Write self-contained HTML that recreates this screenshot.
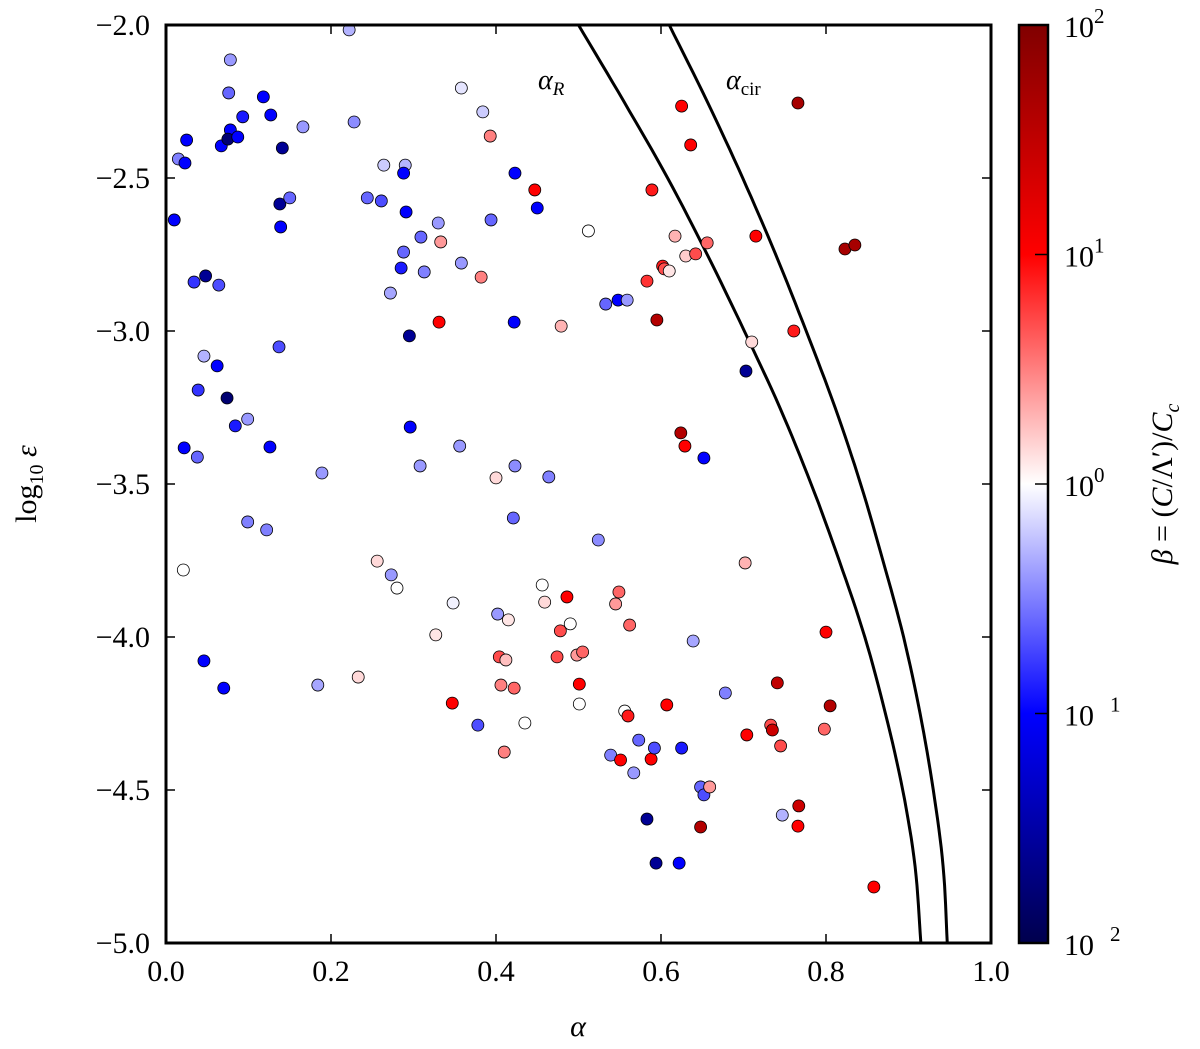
<!DOCTYPE html>
<html><head><meta charset="utf-8"><style>
html,body{margin:0;padding:0;background:#fff;}
svg text{font-family:"Liberation Serif",serif;fill:#000;}
</style></head><body>
<svg id="chart" width="1200" height="1044" xmlns="http://www.w3.org/2000/svg">
<defs>
<linearGradient id="cmap" x1="0" y1="1" x2="0" y2="0">
<stop offset="0" stop-color="#00004d"/>
<stop offset="0.25" stop-color="#0000ff"/>
<stop offset="0.5" stop-color="#ffffff"/>
<stop offset="0.75" stop-color="#ff0000"/>
<stop offset="1" stop-color="#800000"/>
</linearGradient>
</defs>
<g id="marks"></g>
<g id="axes"></g>
<text x="538" y="89" font-size="28" font-style="italic">α<tspan font-size="19" dy="6">R</tspan></text>
<text x="726" y="89" font-size="28" font-style="italic">α<tspan font-size="19" dy="6" font-style="normal">cir</tspan></text>
<text x="578" y="1036" font-size="30" font-style="italic" text-anchor="middle">α</text>
<text transform="translate(36,484) rotate(-90)" font-size="30" text-anchor="middle">log<tspan font-size="20" dy="7">10</tspan><tspan dy="-7" font-style="italic"> ε</tspan></text>
<text transform="translate(1172,484) rotate(-90)" font-size="30" text-anchor="middle"><tspan font-style="italic">β</tspan> = (<tspan font-style="italic">C</tspan>/Λ′)/<tspan font-style="italic">C</tspan><tspan font-size="20" dy="7" font-style="italic">c</tspan></text>
</svg>
<script>
const xTicks=[0,0.2,0.4,0.6,0.8,1.0];
const xTickLabels=["0.0","0.2","0.4","0.6","0.8","1.0"];
const yTicks=[-2,-2.5,-3,-3.5,-4,-4.5,-5];
const yTickLabels=["\u22122.0","\u22122.5","\u22123.0","\u22123.5","\u22124.0","\u22124.5","\u22125.0"];
const cbTicks=[2,1,0,-1,-2];
const cbExp=["2","1","0","1","2"];
const curveEps=[-2,-2.25,-2.5,-2.75,-3,-3.25,-3.5,-3.75,-4,-4.25,-4.5,-4.75,-5];
const alphaR=[0.500,0.555,0.608,0.656,0.701,0.744,0.782,0.816,0.847,0.872,0.893,0.908,0.915];
const alphaCir=[0.610,0.656,0.699,0.739,0.776,0.811,0.842,0.869,0.894,0.914,0.930,0.942,0.947];
const ptAlpha=[.010,.015,.023,.025,.034,.048,.064,.067,.076,.078,.078,.075,.093,.087,.118,.127,.141,.138,.139,.150,.166,.137,.046,.039,.062,.074,.084,.099,.022,.038,.126,.099,.122,.189,.021,.046,.070,.184,.233,.222,.228,.244,.261,.264,.290,.288,.291,.288,.285,.272,.313,.309,.330,.333,.331,.295,.296,.308,.358,.384,.393,.423,.394,.358,.382,.422,.447,.450,.512,.479,.533,.548,.559,.356,.400,.423,.421,.464,.524,.256,.273,.280,.327,.348,.402,.415,.456,.459,.486,.478,.490,.474,.498,.505,.501,.545,.549,.562,.404,.412,.406,.422,.347,.378,.435,.410,.501,.556,.560,.539,.551,.573,.567,.607,.588,.592,.583,.594,.622,.648,.652,.625,.636,.589,.617,.630,.642,.656,.602,.583,.604,.610,.595,.624,.629,.652,.715,.710,.703,.761,.766,.702,.625,.678,.639,.704,.733,.735,.745,.747,.659,.648,.767,.766,.741,.800,.798,.805,.823,.835,.858];
const ptLogEps=[-2.637,-2.438,-2.451,-2.376,-2.840,-2.820,-2.850,-2.395,-2.222,-2.114,-2.343,-2.373,-2.30,-2.366,-2.235,-2.294,-2.402,-2.585,-2.660,-2.565,-2.333,-3.052,-3.082,-3.193,-3.114,-3.219,-3.310,-3.288,-3.382,-3.412,-3.379,-3.624,-3.650,-3.464,-3.781,-4.078,-4.167,-4.157,-4.131,-2.016,-2.317,-2.565,-2.575,-2.458,-2.458,-2.484,-2.611,-2.742,-2.794,-2.876,-2.807,-2.693,-2.647,-2.709,-2.971,-3.016,-3.314,-3.441,-2.206,-2.284,-2.363,-2.484,-2.637,-2.778,-2.824,-2.971,-2.539,-2.598,-2.673,-2.984,-2.912,-2.899,-2.899,-3.376,-3.480,-3.441,-3.611,-3.477,-3.683,-3.752,-3.797,-3.840,-3.993,-3.889,-3.925,-3.944,-3.830,-3.886,-3.869,-3.980,-3.957,-4.065,-4.059,-4.049,-4.154,-3.892,-3.853,-3.961,-4.065,-4.075,-4.157,-4.167,-4.216,-4.288,-4.281,-4.376,-4.219,-4.242,-4.258,-4.386,-4.402,-4.337,-4.444,-4.222,-4.399,-4.363,-4.595,-4.739,-4.739,-4.490,-4.516,-2.265,-2.392,-2.539,-2.690,-2.755,-2.748,-2.712,-2.788,-2.837,-2.797,-2.804,-2.964,-3.333,-3.376,-3.415,-2.690,-3.036,-3.131,-3.000,-2.255,-3.758,-4.363,-4.183,-4.013,-4.320,-4.288,-4.304,-4.356,-4.582,-4.490,-4.621,-4.552,-4.618,-4.150,-3.984,-4.301,-4.225,-2.732,-2.719,-4.817];
const ptLogBeta=[-1.0,-0.5,-1.0,-1.0,-0.8,-1.6,-0.7,-1.0,-0.6,-0.4,-1.0,-1.8,-0.9,-1.0,-1.0,-1.0,-1.6,-1.6,-1.0,-0.6,-0.4,-0.7,-0.3,-0.8,-1.0,-1.8,-0.9,-0.4,-1.0,-0.6,-1.0,-0.5,-0.5,-0.4,0,-1.0,-1.0,-0.35,0.15,-0.3,-0.45,-0.6,-0.7,-0.2,-0.3,-1.0,-1.0,-0.6,-0.9,-0.35,-0.5,-0.6,-0.4,0.4,1.0,-1.6,-1.0,-0.4,-0.1,-0.2,0.5,-1.0,-0.6,-0.4,0.5,-1.0,1.0,-1.0,0,0.3,-0.6,-1.0,-0.4,-0.4,0.15,-0.45,-0.6,-0.5,-0.45,0.15,-0.4,0,0.1,-0.05,-0.4,0.1,0,0.15,1.0,0.7,0,0.7,0.4,0.6,1.0,0.4,0.6,0.6,0.7,0.25,0.5,0.6,1.0,-0.7,0,0.5,0,0,0.9,-0.5,1.0,-0.6,-0.4,1.0,1.0,-0.7,-1.6,-1.6,-1.0,-0.6,-0.7,1.0,1.0,0.9,0.3,0.2,0.7,0.6,0.9,0.8,0.7,0.1,1.6,1.6,1.0,-1.0,1.0,0.15,-1.6,0.9,1.7,0.3,-0.9,-0.5,-0.35,1.0,0.7,1.4,0.7,-0.3,0.4,1.6,1.4,1.0,1.5,1.0,0.6,1.6,1.7,1.7,1.0];

const X0=166,X1=991,Y0=25,Y1=943;
const sx=a=>X0+a*(X1-X0);
const sy=e=>Y0+(-2-e)*(Y1-Y0)/3;
const CBX=1019,CBW=29;
const cy=b=>Y0+(2-b)*(Y1-Y0)/4;
const NS="http://www.w3.org/2000/svg";
function mk(tag,attrs,parent){const el=document.createElementNS(NS,tag);for(const k in attrs)el.setAttribute(k,attrs[k]);parent.appendChild(el);return el;}
function cmap(lb){let t=Math.max(0,Math.min(1,(lb+2)/4));
 const st=[[0,0,0,77],[0.25,0,0,255],[0.5,255,255,255],[0.75,255,0,0],[1,128,0,0]];
 for(let i=0;i<4;i++){if(t<=st[i+1][0]){const f=(t-st[i][0])/(st[i+1][0]-st[i][0]);
  const c=[1,2,3].map(j=>Math.round(st[i][j]+f*(st[i+1][j]-st[i][j])));return `rgb(${c})`;}}
 return "rgb(128,0,0)";}
const marks=document.getElementById('marks'),axes=document.getElementById('axes');
function curve(arr,name){let pts=[];const n=curveEps.length;
 for(let i=0;i<n-1;i++){for(let s=0;s<8;s++){const f=s/8;
  const p1=arr[i],p2=arr[i+1];
  const p0=i>0?arr[i-1]:2*p1-p2, p3=i+2<n?arr[i+2]:2*p2-p1;
  const a=0.5*((2*p1)+(-p0+p2)*f+(2*p0-5*p1+4*p2-p3)*f*f+(-p0+3*p1-3*p2+p3)*f*f*f);
  const e=curveEps[i]+(curveEps[i+1]-curveEps[i])*f;pts.push(sx(a).toFixed(1)+','+sy(e).toFixed(1));}}
 pts.push(sx(arr[n-1])+','+sy(curveEps[n-1]));
 const p=mk('polyline',{points:pts.join(' '),fill:'none',stroke:'#000','stroke-width':3},marks);
 
 }
curve(alphaR,'alpha-r-curve');curve(alphaCir,'alpha-cir-curve');
for(let i=0;i<ptAlpha.length;i++){
 const c=mk('circle',{cx:sx(ptAlpha[i]),cy:sy(ptLogEps[i]),r:6,fill:cmap(ptLogBeta[i]),stroke:'#000','stroke-width':0.8},marks);
 
 
}
const fr=mk('rect',{x:X0,y:Y0,width:X1-X0,height:Y1-Y0,fill:'none',stroke:'#000','stroke-width':3},axes);


xTicks.forEach((v,i)=>{const x=sx(v);
 mk('line',{x1:x,y1:Y1,x2:x,y2:Y1-9,stroke:'#000','stroke-width':1.5},axes);
 mk('line',{x1:x,y1:Y0,x2:x,y2:Y0+9,stroke:'#000','stroke-width':1.5},axes);
 const t=mk('text',{x:x,y:981,'font-size':30,'text-anchor':'middle'},axes);t.textContent=xTickLabels[i];
 
 });
yTicks.forEach((v,i)=>{const y=sy(v);
 mk('line',{x1:X0,y1:y,x2:X0+9,y2:y,stroke:'#000','stroke-width':1.5},axes);
 mk('line',{x1:X1,y1:y,x2:X1-9,y2:y,stroke:'#000','stroke-width':1.5},axes);
 const t=mk('text',{x:150,y:y+10,'font-size':30,'text-anchor':'end'},axes);t.textContent=yTickLabels[i];
 
 });
const cb=mk('rect',{x:CBX,y:Y0,width:CBW,height:Y1-Y0,fill:'url(#cmap)',stroke:'#000','stroke-width':2.5},axes);


cbTicks.forEach((v,i)=>{const y=cy(v);
 mk('line',{x1:CBX+CBW-13,y1:y,x2:CBX+CBW,y2:y,stroke:'#000','stroke-width':1.5},axes);
 const t=mk('text',{x:1064,y:y+12,'font-size':30},axes);
 
 
 const neg=v<0;
 t.innerHTML='10<tspan dx="'+(neg?16:0)+'" dy="-14" font-size="21">'+cbExp[i]+'</tspan>';});
</script>
</body></html>
